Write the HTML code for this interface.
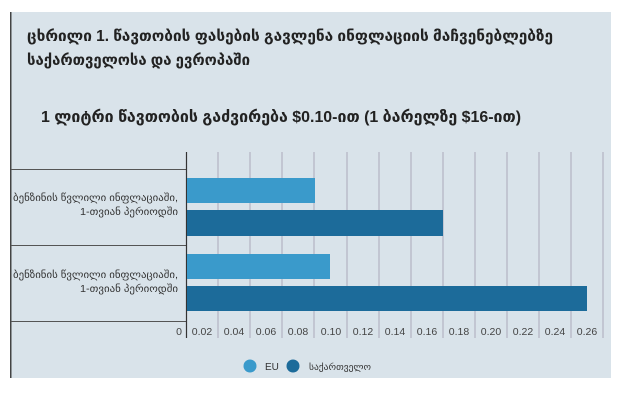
<!DOCTYPE html>
<html><head><meta charset="utf-8"><style>
body{margin:0;width:629px;height:404px;background:#fff;overflow:hidden;font-family:"Liberation Sans","DejaVu Sans",sans-serif}
</style></head><body>
<svg width="629" height="404" xmlns="http://www.w3.org/2000/svg" font-family="Liberation Sans, DejaVu Sans, sans-serif">
<rect x="11" y="12" width="600" height="366" fill="#d9e3ea"/>
<rect x="10" y="12" width="1.5" height="366" fill="#444"/>
<text x="27" y="41" font-size="15.5" font-weight="bold" fill="#222" textLength="526" lengthAdjust="spacingAndGlyphs">ცხრილი 1. წავთობის ფასების გავლენა ინფლაციის მაჩვენებლებზე</text>
<text x="27" y="65" font-size="15.5" font-weight="bold" fill="#222" textLength="223" lengthAdjust="spacingAndGlyphs">საქართველოსა და ევროპაში</text>
<text x="41" y="122" font-size="16" font-weight="bold" fill="#222" textLength="480" lengthAdjust="spacingAndGlyphs">1 ლიტრი წავთობის გაძვირება $0.10-ით (1 ბარელზე $16-ით)</text>
<g stroke="#aab" stroke-width="1">
<line x1="218" y1="152" x2="218" y2="338"/><line x1="250" y1="152" x2="250" y2="338"/><line x1="282" y1="152" x2="282" y2="338"/><line x1="314" y1="152" x2="314" y2="338"/><line x1="347" y1="152" x2="347" y2="338"/><line x1="379" y1="152" x2="379" y2="338"/><line x1="411" y1="152" x2="411" y2="338"/><line x1="443" y1="152" x2="443" y2="338"/><line x1="475" y1="152" x2="475" y2="338"/><line x1="507" y1="152" x2="507" y2="338"/><line x1="539" y1="152" x2="539" y2="338"/><line x1="571" y1="152" x2="571" y2="338"/><line x1="603" y1="152" x2="603" y2="338"/>
</g>
<g stroke="#555" stroke-width="1">
<line x1="11" y1="169.5" x2="186" y2="169.5"/><line x1="11" y1="245.5" x2="186" y2="245.5"/><line x1="11" y1="321.5" x2="186" y2="321.5"/>
</g>
<line x1="186.5" y1="152" x2="186.5" y2="338" stroke="#333" stroke-width="1.2"/>
<rect x="187" y="178" width="128" height="25" fill="#3a9acb"/>
<rect x="187" y="210" width="256" height="26" fill="#1c6b9a"/>
<rect x="187" y="254" width="143" height="25" fill="#3a9acb"/>
<rect x="187" y="286" width="400" height="25" fill="#1c6b9a"/>
<g font-size="10" fill="#333" text-anchor="end" lengthAdjust="spacingAndGlyphs">
<text x="178" y="201" textLength="165" lengthAdjust="spacingAndGlyphs">ბენზინის წვლილი ინფლაციაში,</text><text x="178" y="215" textLength="98" lengthAdjust="spacingAndGlyphs">1-თვიან პერიოდში</text>
<text x="178" y="278" textLength="165" lengthAdjust="spacingAndGlyphs">ბენზინის წვლილი ინფლაციაში,</text><text x="178" y="292" textLength="98" lengthAdjust="spacingAndGlyphs">1-თვიან პერიოდში</text>
</g>
<g font-size="10.5" fill="#444" text-anchor="middle">
<text x="179" y="335">0</text>
<text x="202" y="335">0.02</text><text x="234" y="335">0.04</text><text x="266" y="335">0.06</text><text x="298" y="335">0.08</text><text x="331" y="335">0.10</text><text x="363" y="335">0.12</text><text x="395" y="335">0.14</text><text x="427" y="335">0.16</text><text x="459" y="335">0.18</text><text x="491" y="335">0.20</text><text x="523" y="335">0.22</text><text x="555" y="335">0.24</text><text x="587" y="335">0.26</text>
</g>
<circle cx="250" cy="366" r="6.5" fill="#3a9acb"/>
<text x="265" y="370" font-size="10" fill="#333">EU</text>
<circle cx="293" cy="366" r="6.5" fill="#1c6b9a"/>
<text x="309" y="370" font-size="9" fill="#333" textLength="62" lengthAdjust="spacingAndGlyphs">საქართველო</text>
</svg>
</body></html>
